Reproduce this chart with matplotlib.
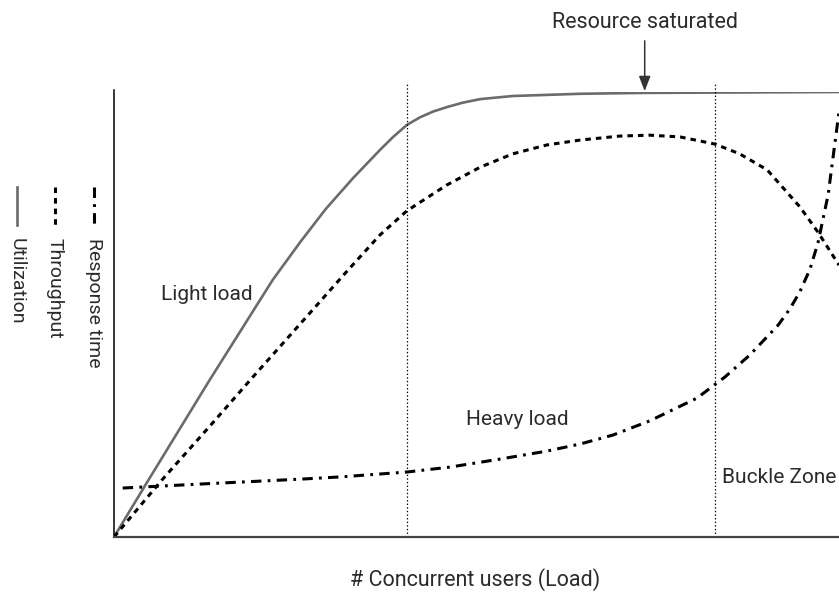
import matplotlib
matplotlib.use("Agg")
import matplotlib.pyplot as plt
from matplotlib.lines import Line2D

plt.rcParams["font.family"] = ["Roboto", "DejaVu Sans"]
plt.rcParams["lines.scale_dashes"] = False

W, H = 839, 594
TEXT = "#2b2b2b"

# load (0-100) vs. relative level (0-100)
util_x = [0, 4.6, 13.2, 21.9, 25.7, 29.2, 33.0, 36.7, 38.5, 40.4, 42.2, 44.0, 45.9, 48.1, 50.5,
          55.0, 64.3, 73.2, 100]
util_y = [0, 12.4, 35.3, 57.8, 66.3, 73.7, 80.7, 87.0, 89.9, 92.6, 94.3, 95.6, 96.6, 97.6, 98.4,
          99.1, 99.6, 99.8, 100]

thru_x = [0, 6.6, 13.7, 18.8, 27.0, 31.9, 36.7, 40.4, 45.9, 50.5, 55.0, 59.7, 64.3, 69.8, 73.9,
          78.1, 80.8, 82.9, 86.3, 90.1, 94.6, 97.1, 100]
thru_y = [0, 12.8, 25.8, 35.3, 50.3, 59.3, 67.9, 73.3, 79.1, 83.1, 86.1, 88.1, 89.2, 90.1, 90.3,
          89.9, 89.0, 88.3, 86.1, 82.5, 74.2, 68.5, 61.1]

resp_x = [1.2, 11.9, 25.7, 31.2, 40.4, 46.3, 53.2, 59.7, 64.3, 68.8, 73.9, 80.4, 84.3, 87.7,
          91.6, 93.2, 94.6, 96.0, 97.1, 98.5, 100]
resp_y = [11.0, 11.9, 13.0, 13.5, 14.6, 15.7, 17.5, 19.3, 20.9, 22.9, 26.1, 31.2, 36.0, 40.9,
          47.6, 51.2, 55.1, 60.2, 66.1, 76.9, 95.5]

zone_edges = [40.4, 82.9]
saturation_x = 73.2

UTIL_STYLE = dict(color="#6b6b6b", lw=1.9, ls="-")
THRU_STYLE = dict(color="black", lw=2.2, ls=(0, (4.0, 3.6)))
RESP_STYLE = dict(color="black", lw=2.2, ls=(0, (7.5, 4.5, 2.0, 4.5)))


def fx(px):
    return px / W


def fy(py):
    return 1 - py / H


fig = plt.figure(figsize=(W / 100, H / 100), dpi=100)
ax = fig.add_axes([fx(114), fy(537), fx(839) - fx(114), fy(92) - fy(537)])
ax.set_xlim(0, 100)
ax.set_ylim(0, 100)

ax.plot(util_x, util_y, **UTIL_STYLE, solid_capstyle="butt", solid_joinstyle="round")
ax.plot(thru_x, thru_y, **THRU_STYLE, dash_capstyle="butt")
ax.plot(resp_x, resp_y, **RESP_STYLE, dash_capstyle="butt")

for xe in zone_edges:
    ax.plot([xe, xe], [0, 102.2], color="black", lw=0.9, ls=(0, (1.0, 1.6)),
            clip_on=False)

# axes: only left and bottom lines, no ticks
for side in ("top", "right"):
    ax.spines[side].set_visible(False)
ax.spines["left"].set_color("black")
ax.spines["left"].set_linewidth(1.1)
ax.spines["left"].set_bounds(0, 100.5)
ax.spines["bottom"].set_color("#444444")
ax.spines["bottom"].set_linewidth(1.6)
ax.set_xticks([])
ax.set_yticks([])

# zone labels
ax.text(12.8, 54.6, "Light load", fontsize=15, color=TEXT, ha="center", va="center")
ax.text(55.6, 26.3, "Heavy load", fontsize=15, color=TEXT, ha="center", va="center")
ax.text(83.9, 13.3, "Buckle Zone", fontsize=15, color=TEXT, ha="left", va="center",
        clip_on=False)

# saturation marker
ax.annotate("", xy=(saturation_x, 100.2), xytext=(saturation_x, 111.5),
            arrowprops=dict(arrowstyle="-|>,head_length=0.9,head_width=0.35",
                            mutation_scale=10, color="#333333", lw=1.1,
                            shrinkA=0, shrinkB=0),
            annotation_clip=False)
fig.text(fx(645), fy(23), "Resource saturated", fontsize=15.5, color=TEXT,
         ha="center", va="center")

fig.text(fx(475), fy(580), "# Concurrent users (Load)", fontsize=15.5, color=TEXT,
         ha="center", va="center")

# rotated legend on the left
legend_items = [
    (94, "Response time", RESP_STYLE),
    (55, "Throughput", THRU_STYLE),
    (17, "Utilization", UTIL_STYLE),
]
for px, label, style in legend_items:
    fig.add_artist(Line2D([fx(px), fx(px)], [fy(187), fy(225)],
                          transform=fig.transFigure, dash_capstyle="butt", **style))
    fig.text(fx(px), fy(238), label, rotation=-90, fontsize=14, color=TEXT,
             ha="center", va="top")

fig.savefig("out.png", dpi=100, facecolor="white")
